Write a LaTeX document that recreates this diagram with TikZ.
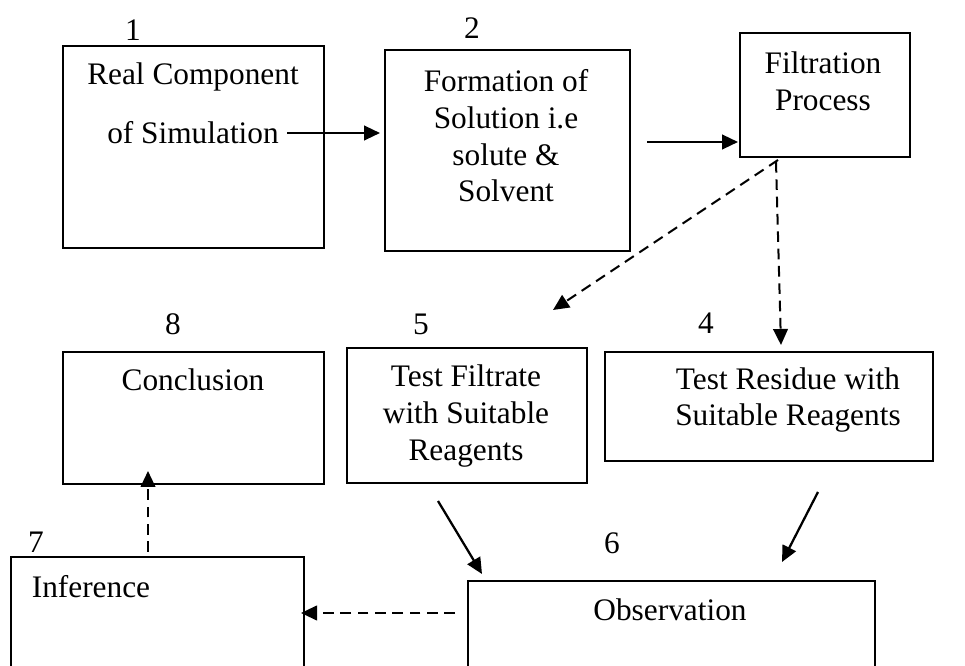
\documentclass[tikz,border=0pt]{standalone}
\usepackage{fontspec}
\setmainfont{Liberation Serif}
\usetikzlibrary{arrows.meta}
\begin{document}
\begin{tikzpicture}[x=0.75pt,y=-0.75pt,
  box/.style={draw, line width=1.3pt, inner sep=0pt, anchor=north west},
  txt/.style={font=\fontsize{23.5}{27.5}\selectfont, align=center, inner sep=0pt},
  num/.style={font=\fontsize{23.5}{26}\selectfont, inner sep=0pt},
  solidarrow/.style={line width=1.7pt, -{Triangle[length=12pt,width=11pt]}},
  dasharrow/.style={line width=1.5pt, dash pattern=on 8pt off 5pt, -{Triangle[length=12pt,width=11pt]}}]
\useasboundingbox (0,0) rectangle (965,666);
\clip (0,0) rectangle (965,666);
% boxes
\node[box, minimum width=195.75pt, minimum height=151.5pt] (b1) at (62,45) {};
\node[box, minimum width=183.75pt, minimum height=150.75pt] (b2) at (384,49) {};
\node[box, minimum width=127.5pt, minimum height=93pt] (b3) at (739,32) {};
\node[box, minimum width=195.75pt, minimum height=99pt] (b8) at (62,351) {};
\node[box, minimum width=180pt, minimum height=101.25pt] (b5) at (346,347) {};
\node[box, minimum width=246pt, minimum height=81.75pt] (b4) at (604,351) {};
\node[box, minimum width=305.25pt, minimum height=105pt] (b6) at (467,580) {};
\node[box, minimum width=219.75pt, minimum height=105pt] (b7) at (10,556) {};
% texts
\node[txt] (t1a) at (193,77) {Real Component};
\node[txt] (t1b) at (193,133) {of Simulation};
\node[txt] (t2) at (506,136) {Formation of\\Solution i.e\\solute \&\\Solvent};
\node[txt] (t3) at (823,81) {Filtration\\Process};
\node[txt] (t8) at (193,380) {Conclusion};
\node[txt] (t5) at (466,416) {Test Filtrate\\with Suitable\\Reagents};
\node[txt] (t4) at (788,400) {Test Residue with\\Suitable Reagents};
\node[txt] (t6) at (670,610) {Observation};
\node[txt] (t7) at (91,587) {Inference};
% numbers
\node[num] (n1) at (133,30) {1};
\node[num] (n2) at (472,28) {2};
\node[num] (n8) at (173,324) {8};
\node[num] (n5) at (421,324) {5};
\node[num] (n4) at (706,323) {4};
\node[num] (n6) at (612,543) {6};
\node[num] (n7) at (36,542) {7};
% connector end points
\coordinate (a12s) at (287,133); \coordinate (a12e) at (380,133);
\coordinate (a23s) at (647,142); \coordinate (a23e) at (738,142);
\coordinate (d35s) at (778,160); \coordinate (d35e) at (553,310);
\coordinate (d34s) at (776,162); \coordinate (d34e) at (781,345);
\coordinate (a56s) at (438,501); \coordinate (a56e) at (482,574);
\coordinate (a46s) at (818,492); \coordinate (a46e) at (782,562);
\coordinate (d67s) at (455,613); \coordinate (d67e) at (301,613);
\coordinate (d78s) at (148,552); \coordinate (d78e) at (148,471);
% connectors
\draw[solidarrow] (a12s) -- (a12e);
\draw[solidarrow] (a23s) -- (a23e);
\draw[dasharrow] (d35s) -- (d35e);
\draw[dasharrow] (d34s) -- (d34e);
\draw[solidarrow] (a56s) -- (a56e);
\draw[solidarrow] (a46s) -- (a46e);
\draw[dasharrow] (d67s) -- (d67e);
\draw[dasharrow] (d78s) -- (d78e);
\end{tikzpicture}
\end{document}
